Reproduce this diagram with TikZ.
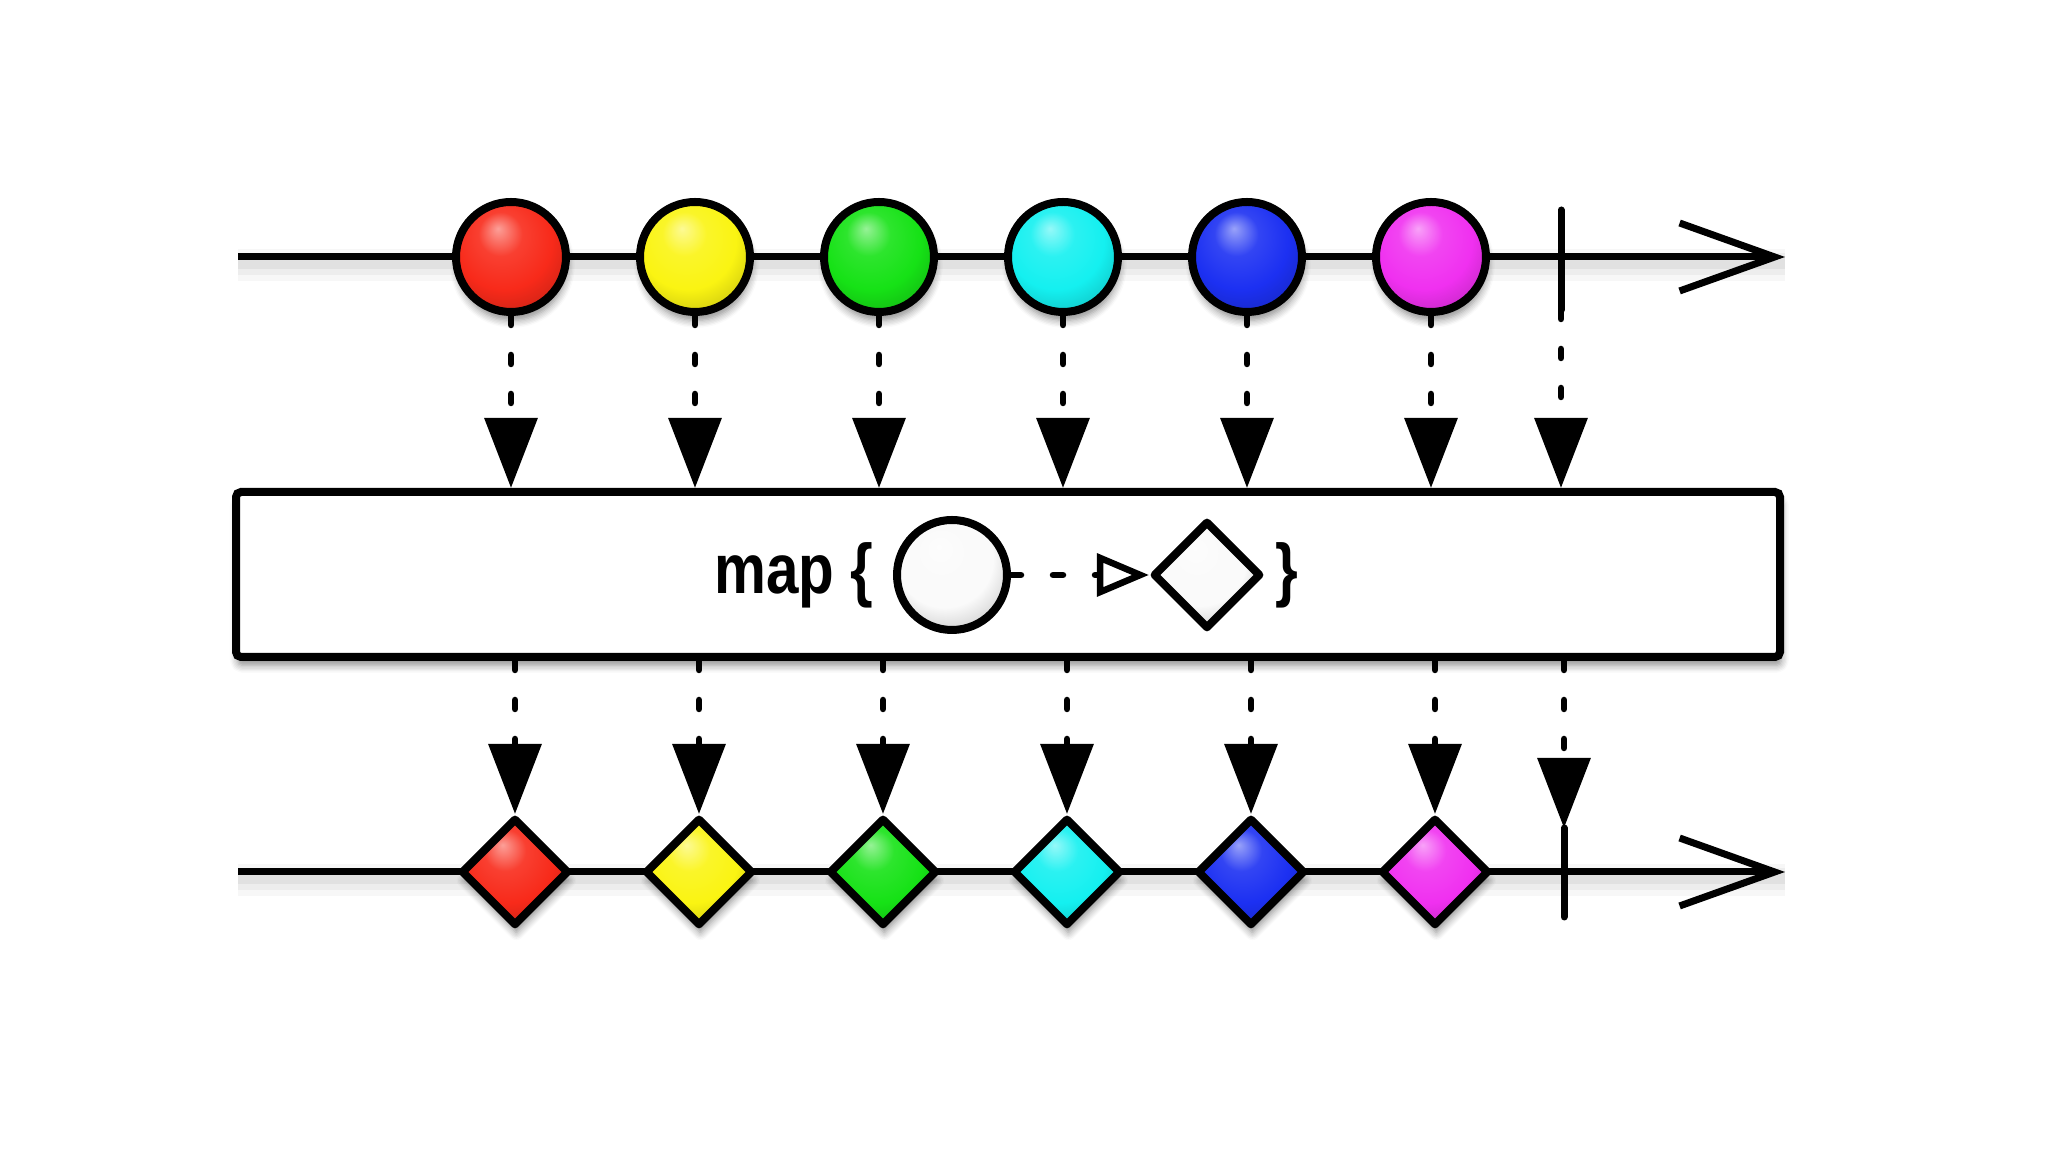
\documentclass[tikz,border=0pt]{standalone}
\usepackage{fontspec}
\setmainfont{Liberation Sans}
\newfontfamily\mapfont[FakeStretch=0.83]{Liberation Sans}
\definecolor{mbred}{RGB}{248,42,26}
\definecolor{mbyellow}{RGB}{250,244,18}
\definecolor{mbgreen}{RGB}{22,226,22}
\definecolor{mbcyan}{RGB}{20,240,240}
\definecolor{mbblue}{RGB}{28,48,242}
\definecolor{mbmagenta}{RGB}{240,48,240}
\definecolor{mbpale}{RGB}{250,250,250}
\usetikzlibrary{arrows.meta,positioning,shapes.geometric,shadows.blur}

\makeatletter
\pgfdeclareradialshading[tikz@ball]{glossy}{\pgfqpoint{-6bp}{13bp}}{%
  color(0bp)=(tikz@ball!45!white);
  color(10bp)=(tikz@ball!90!white);
  color(22bp)=(tikz@ball);
  color(34bp)=(tikz@ball!80!black);
  color(50bp)=(tikz@ball!58!black)}
\makeatother

\tikzset{
  lineshade/.style={
    preaction={draw=black, opacity=0.03, line width=0.32cm, arrows=-, transform canvas={yshift=-0.08cm}},
    preaction={draw=black, opacity=0.04, line width=0.22cm, arrows=-, transform canvas={yshift=-0.07cm}},
    preaction={draw=black, opacity=0.05, line width=0.13cm, arrows=-, transform canvas={yshift=-0.06cm}}},
  timeline/.style={line width=0.07cm, -{Straight Barb[length=0.95cm,width=0.68cm]}, lineshade},
  stopline/.style={line width=0.07cm, line cap=round},
  flow/.style={line width=0.065cm, line cap=round, dash pattern=on 0.09cm off 0.30cm,
    -{Triangle[length=0.70cm,width=0.52cm]}},
  mapflow/.style={line width=0.065cm, line cap=round, dash pattern=on 0.10cm off 0.32cm,
    -{Triangle[open,length=0.52cm,width=0.42cm]}},
  marble/.style={circle, draw=black, line width=0.08cm, minimum size=1.10cm, inner sep=0pt,
    ball color=#1, shading=glossy},
  gem/.style={diamond, draw=black, line width=0.08cm, line join=round, minimum size=1.08cm,
    inner sep=0pt, ball color=#1, shading=glossy},
  soft/.style={blur shadow={shadow xshift=0.4pt, shadow yshift=-2.4pt, shadow blur steps=6,
    shadow opacity=45}},
  maplabel/.style={font=\mapfont\bfseries\fontsize{20}{24}\selectfont, inner sep=0pt},
}

\begin{document}
\begin{tikzpicture}
\useasboundingbox (0,0) rectangle (20.48,11.52);

% source stream
\coordinate (topstart) at (2.38,8.95);
\coordinate (topend) at (17.85,8.95);
\draw[timeline] (topstart) -- (topend);
\node[marble=mbred,soft] (c1) at (5.11,8.95) {};
\node[marble=mbyellow,soft] (c2) at (6.95,8.95) {};
\node[marble=mbgreen,soft] (c3) at (8.79,8.95) {};
\node[marble=mbcyan,soft] (c4) at (10.63,8.95) {};
\node[marble=mbblue,soft] (c5) at (12.47,8.95) {};
\node[marble=mbmagenta,soft] (c6) at (14.31,8.95) {};
\coordinate (topstopN) at (15.61,9.42);
\coordinate (topstopS) at (15.61,8.42);
\draw[stopline] (topstopN) -- (topstopS);

% operator box
\node[draw, line width=0.08cm, rounded corners=0.05cm, fill=white, minimum width=15.44cm,
  minimum height=1.65cm, soft] (mapbox) at (10.08,5.775) {};
\node[marble=mbpale] (ballin) at (9.52,5.77) {};
\node[gem=mbpale] (diamin) at (12.07,5.77) {};
\node[maplabel, left=0.19cm of ballin] (mapword) {map \{};
\node[maplabel, right=0.10cm of diamin] (mapclose) {\}};
\draw[mapflow] (ballin) -- (diamin);

% result stream
\coordinate (botstart) at (2.38,2.80);
\coordinate (botend) at (17.85,2.80);
\draw[timeline] (botstart) -- (botend);
\node[gem=mbred,soft] (d1) at (5.15,2.80) {};
\node[gem=mbyellow,soft] (d2) at (6.99,2.80) {};
\node[gem=mbgreen,soft] (d3) at (8.83,2.80) {};
\node[gem=mbcyan,soft] (d4) at (10.67,2.80) {};
\node[gem=mbblue,soft] (d5) at (12.51,2.80) {};
\node[gem=mbmagenta,soft] (d6) at (14.35,2.80) {};
\coordinate (botstopN) at (15.64,3.24);
\coordinate (botstopS) at (15.64,2.35);
\draw[stopline] (botstopN) -- (botstopS);

% into the operator
\draw[flow] (c1) -- (c1 |- mapbox.north);
\draw[flow] (c2) -- (c2 |- mapbox.north);
\draw[flow] (c3) -- (c3 |- mapbox.north);
\draw[flow] (c4) -- (c4 |- mapbox.north);
\draw[flow] (c5) -- (c5 |- mapbox.north);
\draw[flow] (c6) -- (c6 |- mapbox.north);
\draw[flow] (topstopS) -- (topstopS |- mapbox.north);

% out of the operator
\draw[flow] (d1 |- mapbox.south) -- (d1);
\draw[flow] (d2 |- mapbox.south) -- (d2);
\draw[flow] (d3 |- mapbox.south) -- (d3);
\draw[flow] (d4 |- mapbox.south) -- (d4);
\draw[flow] (d5 |- mapbox.south) -- (d5);
\draw[flow] (d6 |- mapbox.south) -- (d6);
\draw[flow] (botstopN |- mapbox.south) -- (botstopN);
\end{tikzpicture}
\end{document}
